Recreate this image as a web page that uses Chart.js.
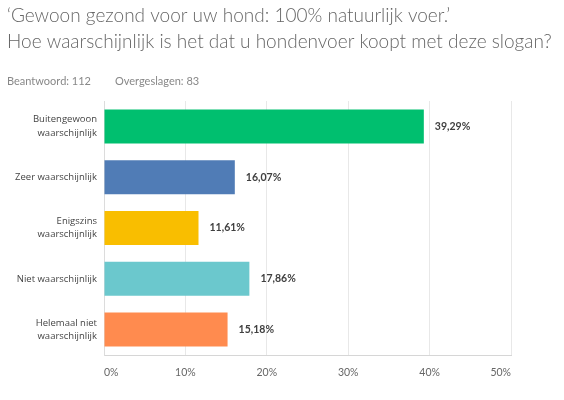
<!DOCTYPE html>
<html>
<head>
<meta charset="utf-8">
<script src="https://cdn.jsdelivr.net/npm/chart.js@4"></script>
<style>
  html, body { margin: 0; padding: 0; background: #fff; }
  #wrap { width: 564px; height: 400px; position: relative; }
</style>
</head>
<body>
<div id="wrap"><canvas id="chart" width="564" height="400"></canvas></div>
<script>
// titels
const TITLE_LINES = [
    '\u2018Gewoon gezond voor uw hond: 100% natuurlijk voer.\u2019',
    'Hoe waarschijnlijk is het dat u hondenvoer koopt met deze slogan?'
];
const ANSWERED = 'Beantwoord: 112';
const SKIPPED = 'Overgeslagen: 83';

// categorieën (meerregelig) en percentages
const CATEGORIES = [
    ['Buitengewoon', 'waarschijnlijk'],
    'Zeer waarschijnlijk',
    ['Enigszins', 'waarschijnlijk'],
    'Niet waarschijnlijk',
    ['Helemaal niet', 'waarschijnlijk']
];
const PERCENTAGES = [39.29, 16.07, 11.61, 17.86, 15.18];
const BAR_COLORS = ['#00bf6f', '#507cb6', '#f9be00', '#6bc8cd', '#ff8b4f'];
const X_TICKS = [0, 10, 20, 30, 40, 50];

const FONT = 'Lato, "Open Sans", sans-serif';
const LABEL_FONT = '"Open Sans", Lato, sans-serif';

// kop tekenen (titel + teller)
const headerPlugin = {
    id: 'header',
    beforeDraw(chart) {
        const ctx = chart.ctx;
        ctx.save();
        ctx.textAlign = 'left';
        ctx.textBaseline = 'alphabetic';
        ctx.fillStyle = '#666';
        ctx.font = '300 19px ' + FONT;
        ctx.fillText(TITLE_LINES[0], 7, 22);
        ctx.fillText(TITLE_LINES[1], 7, 48);
        ctx.fillStyle = '#888';
        ctx.font = '11px ' + FONT;
        ctx.fillText(ANSWERED, 7, 85);
        ctx.fillText(SKIPPED, 115, 85);
        ctx.restore();
    }
};

// percentage naast elke balk
const valueLabels = {
    id: 'valueLabels',
    afterDatasetsDraw(chart) {
        const ctx = chart.ctx;
        const meta = chart.getDatasetMeta(0);
        ctx.save();
        ctx.font = 'bold 10.5px ' + FONT;
        ctx.fillStyle = '#404040';
        ctx.textAlign = 'left';
        ctx.textBaseline = 'middle';
        meta.data.forEach((bar, i) => {
            const txt = PERCENTAGES[i].toFixed(2).replace('.', ',') + '%';
            ctx.fillText(txt, bar.x + 11, bar.y);
        });
        ctx.restore();
    }
};

new Chart(document.getElementById('chart'), {
    type: 'bar',
    data: {
        labels: CATEGORIES,
        datasets: [{
            data: PERCENTAGES,
            backgroundColor: BAR_COLORS,
            borderWidth: 0,
            categoryPercentage: 1,
            barPercentage: 0.67
        }]
    },
    options: {
        indexAxis: 'y',
        responsive: false,
        animation: false,
        layout: { padding: { top: 101, right: 53, left: 0, bottom: 0 } },
        plugins: {
            legend: { display: false },
            tooltip: { enabled: false }
        },
        scales: {
            x: {
                min: 0,
                max: 50,
                afterBuildTicks(scale) { scale.ticks = X_TICKS.map(v => ({ value: v })); },
                afterFit(scale) { scale.height = 45; },
                grid: { color: '#e8e8e8', drawTicks: false },
                border: { color: '#d6d6d6', width: 1 },
                ticks: {
                    align: 'inner',
                    padding: 11,
                    color: '#666',
                    font: { family: FONT, size: 10.5 },
                    callback: v => v + '%'
                }
            },
            y: {
                afterFit(scale) { scale.width = 104; },
                grid: { display: false, drawTicks: false },
                border: { color: '#dcdcdc', width: 1 },
                ticks: {
                    padding: 7,
                    color: '#444',
                    font: { family: LABEL_FONT, size: 9.5, lineHeight: 1.4 }
                }
            }
        }
    },
    plugins: [headerPlugin, valueLabels]
});
</script>
</body>
</html>
